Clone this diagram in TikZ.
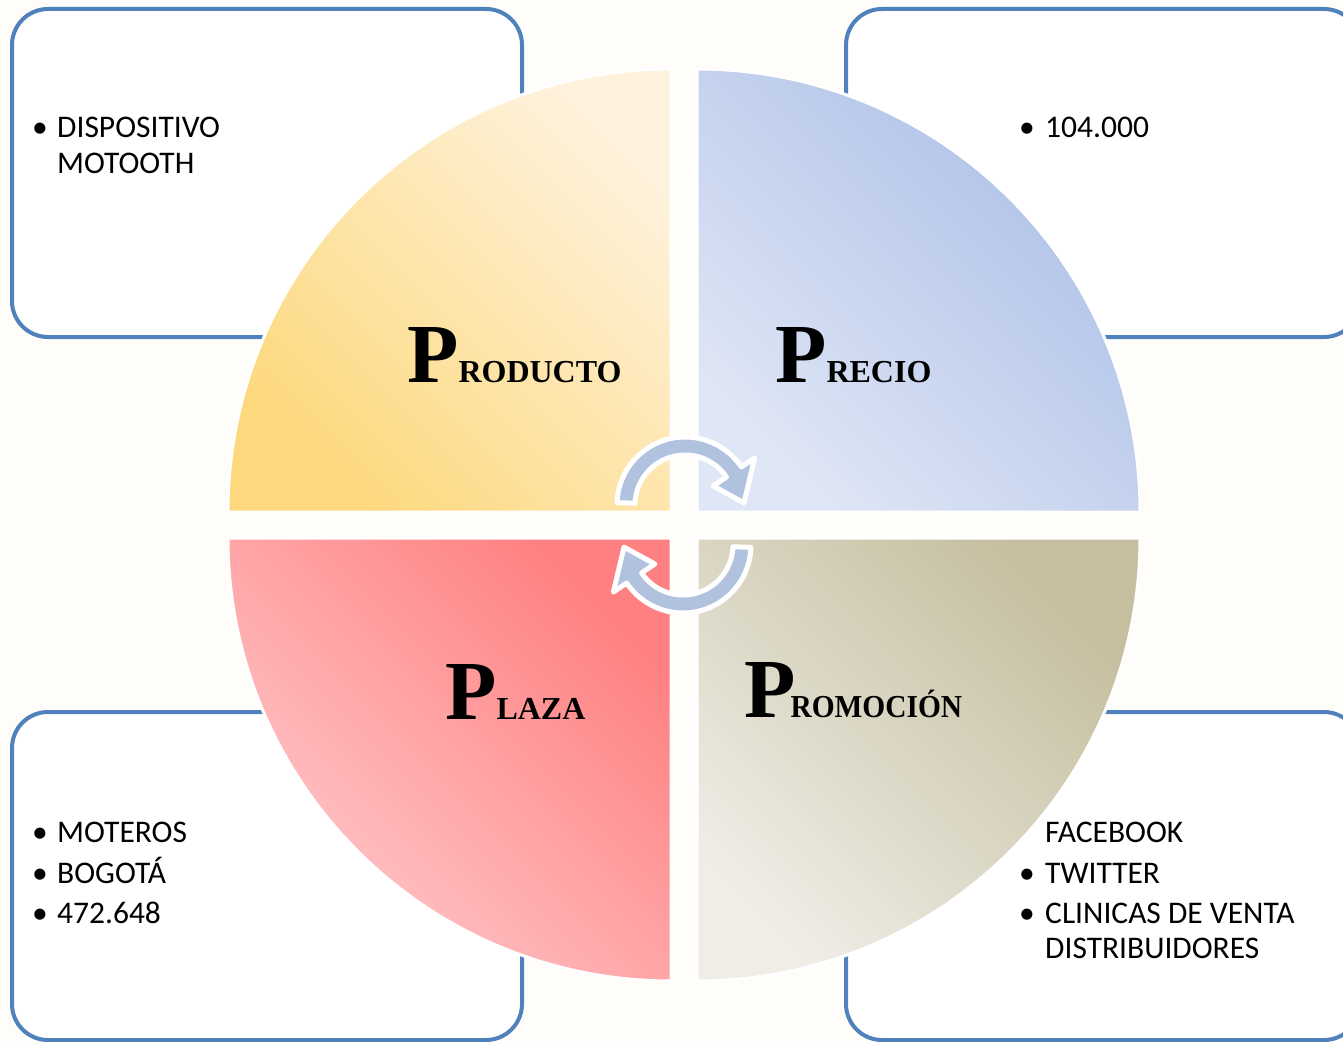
\documentclass[tikz,border=0pt]{standalone}
\usepackage{fontspec}
\setmainfont{Carlito}
\newfontfamily\titlefont{Liberation Serif}
\usetikzlibrary{calc}
\definecolor{bg}{HTML}{FEFDF9}
\definecolor{boxline}{HTML}{4F81BD}
\definecolor{arrowblue}{HTML}{B1C2DF}
\definecolor{prodA}{HTML}{FDD87C}
\definecolor{prodB}{HTML}{FEF2DC}
\definecolor{precA}{HTML}{DFE6F5}
\definecolor{precB}{HTML}{ABBFE7}
\definecolor{plazA}{HTML}{FFCACD}
\definecolor{plazB}{HTML}{FF8080}
\definecolor{promA}{HTML}{EFEDE6}
\definecolor{promB}{HTML}{C5BE9F}
\begin{document}
\begin{tikzpicture}[x=1pt,y=-1pt,
  infobox/.style={draw=boxline, line width=4pt, fill=white, rounded corners=36pt},
  itemtext/.style={anchor=base west, inner sep=0pt, font=\fontsize{31.5}{36}\selectfont},
  bul/.style={anchor=base, inner sep=0pt, font=\fontsize{31.5}{36}\selectfont},
  quad/.style={draw=white, line width=3pt},
  title/.style={anchor=base west, inner sep=0pt},
  cyc/.style={fill=arrowblue, draw=white, line width=5pt, line join=round}
]
\useasboundingbox (0,0) rectangle (1343,1041);
\fill[bg] (0,0) rectangle (1343,1041);

% info boxes
\draw[infobox] (12,9) rectangle (522,337);
\draw[infobox] (846,9) rectangle (1360,337);
\draw[infobox] (12,712) rectangle (522,1040);
\draw[infobox] (846,712) rectangle (1360,1040);

% box texts
\node[bul] (b1) at (40,137) {•};
\node[itemtext] (t1) at (57,137) {DISPOSITIVO};
\node[itemtext] (t1b) at (57,173) {MOTOOTH};

\node[bul] (b2) at (1027,137) {•};
\node[itemtext] (t2) at (1045,137) {104.000};

\node[bul] (b3) at (40,842) {•};
\node[itemtext] (t3) at (57,842) {MOTEROS};
\node[bul] (b4) at (40,883) {•};
\node[itemtext] (t4) at (57,883) {BOGOTÁ};
\node[bul] (b5) at (40,923) {•};
\node[itemtext] (t5) at (57,923) {472.648};

\node[itemtext] (t6) at (1045,842) {FACEBOOK};
\node[bul] (b7) at (1027,883) {•};
\node[itemtext] (t7) at (1045,883) {TWITTER};
\node[bul] (b8) at (1027,923) {•};
\node[itemtext] (t8) at (1045,923) {CLINICAS DE VENTA};
\node[itemtext] (t8b) at (1045,958) {DISTRIBUIDORES};

% quadrants
\shade[quad, bottom color=prodA, top color=prodB, shading angle=-45]
  (671,512) -- (228,512) arc[start angle=180, end angle=270, radius=443] -- cycle;
\shade[quad, bottom color=precA, top color=precB, shading angle=-45]
  (697,512) -- (697,69) arc[start angle=270, end angle=360, radius=443] -- cycle;
\shade[quad, bottom color=plazA, top color=plazB, shading angle=-45]
  (671,538) -- (671,981) arc[start angle=90, end angle=180, radius=443] -- cycle;
\shade[quad, bottom color=promA, top color=promB, shading angle=-45]
  (697,538) -- (1140,538) arc[start angle=0, end angle=90, radius=443] -- cycle;

% titles
\node[title] (producto) at (407,382) {\titlefont\bfseries\fontsize{84}{84}\selectfont P\fontsize{32}{32}\selectfont RODUCTO};
\node[title] (precio) at (775,382) {\titlefont\bfseries\fontsize{84}{84}\selectfont P\fontsize{32}{32}\selectfont RECIO};
\node[title] (plaza) at (445,719) {\titlefont\bfseries\fontsize{84}{84}\selectfont P\fontsize{32}{32}\selectfont LAZA};
\node[title] (promocion) at (744,717) {\titlefont\bfseries\fontsize{84}{84}\selectfont P\fontsize{32}{32}\selectfont\hspace{-5pt}\scalebox{0.92}[1]{ROMOCIÓN}};

% cycle arrows
\coordinate (U) at (685,505);
\coordinate (L) at (683,545);
\path[cyc] ($(U)+(182:68)$) arc[start angle=182, end angle=326, radius=68]
  -- ($(U)+(326:84)$) -- ($(U)+(358:59)$) -- ($(U)+(326:34)$) -- ($(U)+(326:50)$)
  arc[start angle=326, end angle=182, radius=50] -- cycle;
\path[cyc] ($(L)+(2:68)$) arc[start angle=2, end angle=146, radius=68]
  -- ($(L)+(146:84)$) -- ($(L)+(178:59)$) -- ($(L)+(146:34)$) -- ($(L)+(146:50)$)
  arc[start angle=146, end angle=2, radius=50] -- cycle;
\end{tikzpicture}
\end{document}
